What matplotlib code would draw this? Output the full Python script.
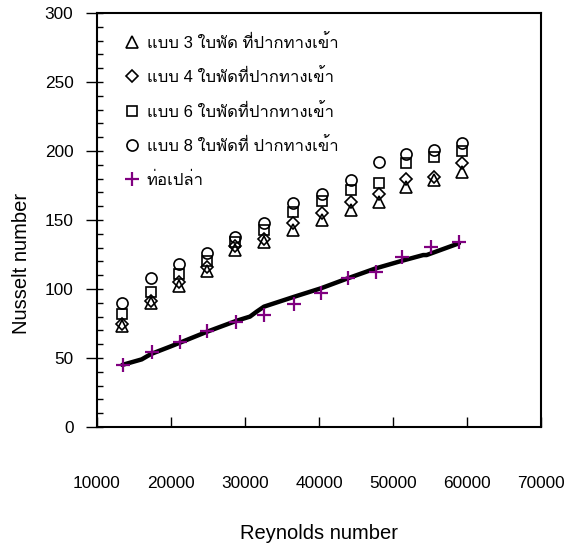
import matplotlib
matplotlib.use("Agg")
import matplotlib.pyplot as plt
from matplotlib.ticker import MultipleLocator, FixedLocator

# ---------------- data ----------------
re_fan = [13380, 17230, 21080, 24900, 28700, 32630, 36490, 40400, 44320, 48100, 51720, 55540, 59320]
nu_3blade = [73, 90, 102, 113, 128, 134, 143, 150, 157, 163, 174, 179, 185]
nu_4blade = [75, 91.5, 105, 116, 131, 136, 148, 155, 163, 169, 180, 181, 191]
nu_6blade = [82, 98, 111, 120, 134, 143, 156, 164, 172, 177, 191, 196, 200]
nu_8blade = [90, 108, 118, 126, 138, 148, 162, 169, 179, 192, 198, 201, 206]

re_plain = [13550, 17390, 21220, 24910, 28780, 32570, 36660, 40270, 43880, 47700, 51260, 55100, 58920]
nu_plain = [44.9, 54.6, 61.8, 69.6, 76.3, 81.0, 89.1, 96.9, 107.7, 112.6, 123, 130.2, 134.3]

re_corr = [13420, 16040, 17300, 19860, 21210, 24900, 28870, 30670, 31580, 32560, 36660, 40260,
           43870, 47690, 51250, 54080, 54540, 58910]
nu_corr = [45, 49, 52.9, 58.2, 61.1, 69.1, 77, 80, 83.6, 87.2, 94.4, 100.5,
           107.7, 115, 120.5, 124.6, 124.6, 133.1]

labels = ["แบบ 3 ใบพัด ที่ปากทางเข้า",
          "แบบ 4 ใบพัดที่ปากทางเข้า",
          "แบบ 6 ใบพัดที่ปากทางเข้า",
          "แบบ 8 ใบพัดที่ ปากทางเข้า",
          "ท่อเปล่า"]
x_ticks = [10000, 20000, 30000, 40000, 50000, 60000, 70000]
y_ticks = [0, 50, 100, 150, 200, 250, 300]

plt.rcParams['font.family'] = ["Liberation Sans", "Loma", "DejaVu Sans"]

fig = plt.figure(figsize=(5.67, 5.54), dpi=100)
ax = fig.add_axes([97/567, 1-427/554, (541-97)/567, (427-13)/554])

ax.plot(re_corr, nu_corr, color="black", lw=3.2, zorder=2, solid_capstyle="round")
mk = dict(linestyle="none", markerfacecolor="none", markeredgecolor="black", markeredgewidth=1.2)
ax.plot(re_fan, nu_3blade, marker="^", markersize=8, label=labels[0], zorder=3, **mk)
ax.plot(re_fan, nu_4blade, marker="D", markersize=6, label=labels[1], zorder=3, **mk)
ax.plot(re_fan, nu_6blade, marker="s", markersize=7, label=labels[2], zorder=3, **mk)
ax.plot(re_fan, nu_8blade, marker="o", markersize=8, label=labels[3], zorder=3, **mk)
ax.plot(re_plain, nu_plain, linestyle="none", marker="+", markersize=10, markeredgewidth=1.6,
        color="#800080", label=labels[4], zorder=4)

ax.set_xlim(10000, 70000)
ax.set_ylim(0, 300)
ax.xaxis.set_major_locator(FixedLocator(x_ticks))
ax.yaxis.set_major_locator(FixedLocator(y_ticks))
ax.yaxis.set_minor_locator(MultipleLocator(10))
ax.yaxis.remove_overlapping_locs = False
ax.tick_params(axis="x", which="major", direction="in", length=7, width=1, pad=35.5, labelsize=12.4)
ax.tick_params(axis="y", which="major", direction="out", length=8, width=1, pad=9, labelsize=12.4)
ax.tick_params(axis="y", which="minor", direction="in", length=4.5, width=1)
for s in ax.spines.values():
    s.set_linewidth(1.5)

ax.set_xlabel("Reynolds number", fontsize=14.5)
ax.xaxis.set_label_coords(0.5, -0.234)
ax.set_ylabel("Nusselt number", fontsize=14.5)
ax.yaxis.set_label_coords(-0.148, 0.394)

leg = ax.legend(loc="upper left", frameon=False, fontsize=12, handletextpad=0.35,
                labelspacing=1.05, borderaxespad=0.0, handlelength=1.0,
                bbox_to_anchor=(0.046, 0.966))

fig.savefig("out.png", dpi=100)
